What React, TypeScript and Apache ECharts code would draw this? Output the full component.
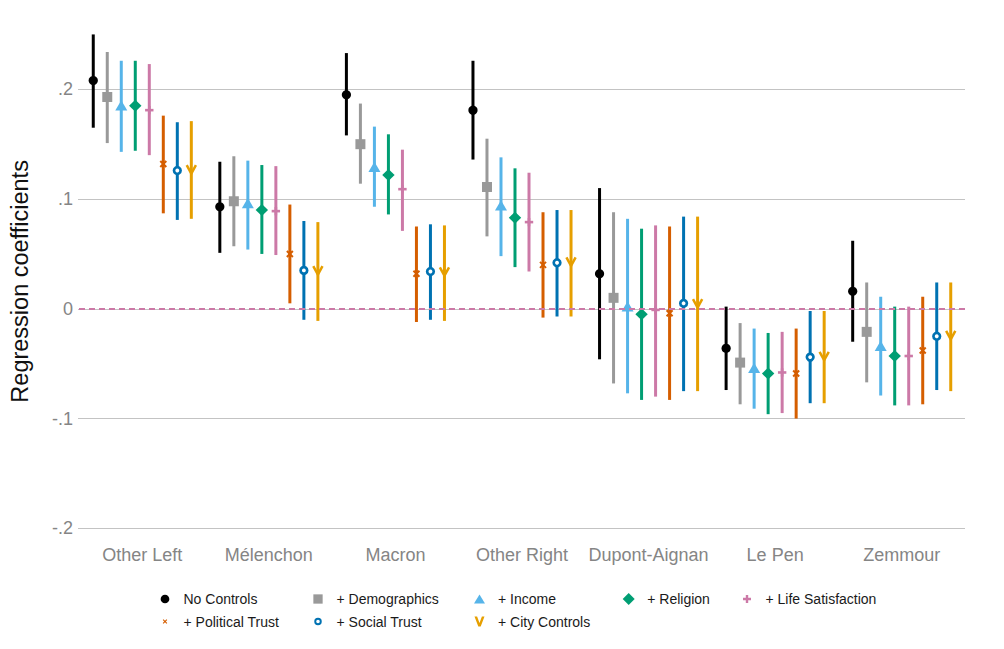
import React, { useEffect, useRef } from 'react';
import * as echarts from 'echarts';

const categories = ['Other Left', 'Mélenchon', 'Macron', 'Other Right', 'Dupont-Aignan', 'Le Pen', 'Zemmour'];
const seriesNames = ['No Controls', '+ Demographics', '+ Income', '+ Religion', '+ Life Satisfaction', '+ Political Trust', '+ Social Trust', '+ City Controls'];
const seriesColors = ['#000000', '#999999', '#56B4E9', '#009E73', '#CC79A7', '#D55E00', '#0072B2', '#E69F00'];
const yTickValues = [-0.2, -0.1, 0, 0.1, 0.2];
const yTickLabels = ['-.2', '-.1', '0', '.1', '.2'];

// point estimates, lower and upper bounds per series (one value per category)
const noControlsEst = [0.208, 0.093, 0.195, 0.181, 0.032, -0.036, 0.016];
const noControlsLo = [0.165, 0.051, 0.158, 0.136, -0.046, -0.074, -0.030];
const noControlsHi = [0.250, 0.134, 0.233, 0.226, 0.110, 0.002, 0.062];

const demographicsEst = [0.193, 0.098, 0.150, 0.111, 0.010, -0.049, -0.021];
const demographicsLo = [0.151, 0.057, 0.114, 0.066, -0.068, -0.087, -0.067];
const demographicsHi = [0.234, 0.139, 0.187, 0.155, 0.088, -0.013, 0.024];

const incomeEst = [0.185, 0.096, 0.129, 0.094, 0.002, -0.054, -0.034];
const incomeLo = [0.143, 0.054, 0.093, 0.048, -0.077, -0.091, -0.079];
const incomeHi = [0.226, 0.135, 0.166, 0.138, 0.082, -0.018, 0.011];

const religionEst = [0.185, 0.090, 0.122, 0.083, -0.005, -0.059, -0.043];
const religionLo = [0.144, 0.050, 0.086, 0.038, -0.083, -0.096, -0.088];
const religionHi = [0.226, 0.131, 0.159, 0.128, 0.073, -0.022, 0.002];

const lifeSatEst = [0.181, 0.089, 0.109, 0.079, -0.001, -0.058, -0.043];
const lifeSatLo = [0.140, 0.049, 0.071, 0.034, -0.080, -0.095, -0.088];
const lifeSatHi = [0.223, 0.130, 0.145, 0.124, 0.076, -0.021, 0.002];

const politicalTrustEst = [0.132, 0.050, 0.032, 0.040, -0.004, -0.059, -0.038];
const politicalTrustLo = [0.087, 0.005, -0.012, -0.008, -0.083, -0.100, -0.087];
const politicalTrustHi = [0.176, 0.095, 0.075, 0.088, 0.075, -0.018, 0.011];

const socialTrustEst = [0.126, 0.035, 0.034, 0.042, 0.005, -0.044, -0.025];
const socialTrustLo = [0.081, -0.010, -0.010, -0.007, -0.075, -0.086, -0.074];
const socialTrustHi = [0.170, 0.080, 0.077, 0.090, 0.084, -0.002, 0.024];

const cityControlsEst = [0.127, 0.035, 0.034, 0.043, 0.005, -0.043, -0.024];
const cityControlsLo = [0.082, -0.011, -0.011, -0.007, -0.075, -0.086, -0.075];
const cityControlsHi = [0.171, 0.079, 0.076, 0.090, 0.084, -0.002, 0.024];

const estimates = [noControlsEst, demographicsEst, incomeEst, religionEst, lifeSatEst, politicalTrustEst, socialTrustEst, cityControlsEst];
const lowers = [noControlsLo, demographicsLo, incomeLo, religionLo, lifeSatLo, politicalTrustLo, socialTrustLo, cityControlsLo];
const uppers = [noControlsHi, demographicsHi, incomeHi, religionHi, lifeSatHi, politicalTrustHi, socialTrustHi, cityControlsHi];

const FONT = '"Liberation Sans", Arial, Helvetica, sans-serif';

const legendIcons = [
  'path://M5,0A5,5,0,1,1,5,10A5,5,0,1,1,5,0Z',
  'path://M0,0H10V10H0Z',
  'path://M5,0L10,8.2L0,8.2Z',
  'path://M5,0L10,5L5,10L0,5Z',
  'path://M3.5,0H6.5V3.5H10V6.5H6.5V10H3.5V6.5H0V3.5H3.5Z',
  'path://M0,1.8L1.8,0L5,3.2L8.2,0L10,1.8L6.8,5L10,8.2L8.2,10L5,6.8L1.8,10L0,8.2L3.2,5Z',
  'path://M5,0A5,5,0,1,1,5,10A5,5,0,1,1,5,0ZM5,2.6A2.4,2.4,0,1,0,5,7.4A2.4,2.4,0,1,0,5,2.6Z',
  'path://M0,0H2.6L5,6.5L7.4,0H10L6.2,10H3.8Z',
];
const legendIconAspect = [1, 1, 10 / 8.2, 1, 1, 1, 1, 1];
const legendIconHeights = [8.7, 9.3, 9, 12, 8, 4.5, 7.5, 10];
const legendCenters = [
  [165, 599], [318, 599], [479.5, 599], [628.7, 599], [747, 599],
  [165, 621.5], [318, 621.5], [479.5, 621.5],
];

function markerFor(j: number, x: number, y: number, color: string) {
  switch (j) {
    case 0:
      return { type: 'circle', shape: { cx: x, cy: y, r: 4.6 }, style: { fill: color } };
    case 1:
      return { type: 'rect', shape: { x: x - 5, y: y - 5, width: 10, height: 10 }, style: { fill: color } };
    case 2:
      return { type: 'polygon', shape: { points: [[x, y - 5.4], [x + 6, y + 4.8], [x - 6, y + 4.8]] }, style: { fill: color } };
    case 3:
      return { type: 'polygon', shape: { points: [[x, y - 6], [x + 6.2, y], [x, y + 6], [x - 6.2, y]] }, style: { fill: color } };
    case 4:
      return {
        type: 'group',
        children: [
          { type: 'line', shape: { x1: x - 4.2, y1: y, x2: x + 4.2, y2: y }, style: { stroke: color, lineWidth: 2.6 } },
          { type: 'line', shape: { x1: x, y1: y - 4.2, x2: x, y2: y + 4.2 }, style: { stroke: color, lineWidth: 2.6 } },
        ],
      };
    case 5:
      return {
        type: 'group',
        children: [
          { type: 'line', shape: { x1: x - 3, y1: y - 3, x2: x + 3, y2: y + 3 }, style: { stroke: color, lineWidth: 2 } },
          { type: 'line', shape: { x1: x - 3, y1: y + 3, x2: x + 3, y2: y - 3 }, style: { stroke: color, lineWidth: 2 } },
        ],
      };
    case 6:
      return { type: 'circle', shape: { cx: x, cy: y, r: 3.3 }, style: { fill: '#ffffff', stroke: color, lineWidth: 2.7 } };
    default:
      return {
        type: 'polyline',
        shape: { points: [[x - 4.6, y - 4.2], [x, y + 4.2], [x + 4.6, y - 4.2]] },
        style: { stroke: color, lineWidth: 2.5, fill: 'none' },
      };
  }
}

export default function App() {
  const ref = useRef<HTMLDivElement>(null);

  useEffect(() => {
    const chart = echarts.init(ref.current as HTMLDivElement, null, { renderer: 'svg' });

    const customSeries = seriesNames.map((name, j) => ({
      name,
      type: 'custom',
      xAxisIndex: 1,
      yAxisIndex: 1,
      z: 3,
      itemStyle: { color: seriesColors[j] },
      encode: { x: 0, y: [1, 2, 3] },
      data: categories.map((_, i) => [i, estimates[j][i], lowers[j][i], uppers[j][i]]),
      renderItem: (params: any, api: any) => {
        const ci = api.value(0);
        const est = api.coord([ci, api.value(1)]);
        const lo = api.coord([ci, api.value(2)]);
        const hi = api.coord([ci, api.value(3)]);
        const band = api.size([1, 0])[0];
        const x = est[0] + (j - 3.5) * band * (14 / 126.5);
        const color = seriesColors[j];
        return {
          type: 'group',
          children: [
            { type: 'line', shape: { x1: x, y1: lo[1], x2: x, y2: hi[1] }, style: { stroke: color, lineWidth: 3 } },
            markerFor(j, x, est[1], color),
          ],
        };
      },
    }));

    const legends = seriesNames.map((name, j) => {
      const iconW = legendIconHeights[j] * legendIconAspect[j];
      return {
        data: [{ name, icon: legendIcons[j] }],
        left: legendCenters[j][0] - iconW / 2,
        top: legendCenters[j][1] - 7,
        padding: 0,
        itemWidth: 27,
        itemHeight: legendIconHeights[j],
        symbolKeepAspect: true,
        itemStyle: { borderWidth: 0 },
        textStyle: { fontSize: 14, color: '#1a1a1a', fontFamily: FONT },
      };
    });

    const option: any = {
      animation: false,
      backgroundColor: '#ffffff',
      textStyle: { fontFamily: FONT },
      grid: [
        { left: 78, right: 39, top: 89.3, bottom: 120.7 },
        { left: 78, right: 39, top: 23.45, bottom: 109.7 },
      ],
      legend: legends,
      xAxis: [
        { type: 'category', gridIndex: 0, data: categories, show: false },
        {
          type: 'category',
          gridIndex: 1,
          data: categories,
          axisLine: { show: false },
          axisTick: { show: false },
          splitLine: { show: false },
          axisLabel: { interval: 0, color: '#858585', fontSize: 18, margin: 7, fontFamily: FONT },
        },
      ],
      yAxis: [
        {
          type: 'value',
          gridIndex: 0,
          min: -0.2,
          max: 0.2,
          interval: 0.1,
          axisLine: { show: false },
          axisTick: { show: false },
          splitLine: { show: true, lineStyle: { color: '#c3c3c3', width: 1 } },
          axisLabel: {
            color: '#858585',
            fontSize: 18,
            margin: 5,
            fontFamily: FONT,
            formatter: (v: number) => {
              const idx = yTickValues.findIndex((t) => Math.abs(t - v) < 1e-6);
              return idx >= 0 ? yTickLabels[idx] : '';
            },
          },
        },
        {
          type: 'value',
          gridIndex: 1,
          min: -0.21,
          max: 0.26,
          axisLine: { show: false },
          axisTick: { show: false },
          axisLabel: { show: false },
          splitLine: { show: false },
          name: 'Regression coefficients',
          nameLocation: 'middle',
          nameRotate: 90,
          nameGap: 47,
          nameTextStyle: { fontSize: 23.5, color: '#111111', fontFamily: FONT },
        },
      ],
      series: [
        {
          type: 'line',
          xAxisIndex: 1,
          yAxisIndex: 1,
          data: [],
          z: 2,
          silent: true,
          markLine: {
            silent: true,
            symbol: ['none', 'none'],
            label: { show: false },
            lineStyle: { color: '#CC79A7', type: [6, 4], width: 2 },
            data: [{ yAxis: 0 }],
          },
        },
        ...customSeries,
      ],
    };

    chart.setOption(option);
    return () => chart.dispose();
  }, []);

  return <div ref={ref} style={{ position: 'fixed', left: 0, top: 0, width: 1004, height: 649 }} />;
}
